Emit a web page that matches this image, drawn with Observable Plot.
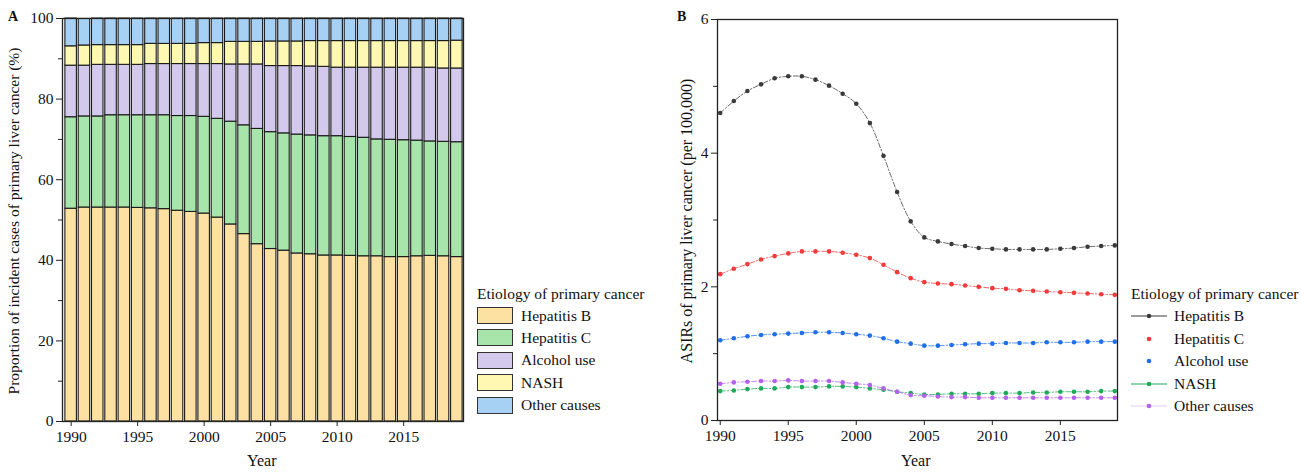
<!DOCTYPE html>
<html>
<head>
<meta charset="utf-8">
<script src="https://cdn.jsdelivr.net/npm/d3@7"></script>
<script src="https://cdn.jsdelivr.net/npm/@observablehq/plot@0.6"></script>
<style>
  html, body { margin: 0; padding: 0; background: #fff; }
  #root { position: relative; width: 1301px; height: 472px; font-family: "Liberation Serif", "DejaVu Serif", serif; color: #111; }
  .abs { position: absolute; white-space: nowrap; }
  .ylab { position: absolute; transform: translate(-50%, -50%) rotate(-90deg); white-space: nowrap; }
  .panel { position: absolute; top: 0; }
  .panel svg text { font-size: 15.5px !important; font-family: "Liberation Serif", serif !important; fill: #111; }
  .leg-title { position: absolute; font-size: 15.5px; white-space: nowrap; }
  .leg-row { position: absolute; font-size: 15.5px; white-space: nowrap; display: flex; align-items: center; }
</style>
</head>
<body>
<div id="root">
  <div class="panel" id="panelA" style="left:0px"></div>
  <div class="panel" id="panelB" style="left:650px"></div>
  <div class="abs" style="left:8px; top:9px; font-weight:bold; font-size:14px;">A</div>
  <div class="abs" style="left:677px; top:9px; font-weight:bold; font-size:14px;">B</div>
  <div class="ylab" style="left:14px; top:221px; font-size:15.5px;">Proportion of incident cases of primary liver cancer (%)</div>
  <div class="ylab" style="left:687px; top:221px; font-size:16px;">ASIRs of primary liver cancer (per 100,000)</div>
  <div class="abs" style="left:247px; top:452px; font-size:16px;">Year</div>
  <div class="abs" style="left:901px; top:452px; font-size:16px;">Year</div>
  <div id="legA"></div>
  <div id="legB"></div>
</div>
<script>
// ---------- data ----------
const years = [1990,1991,1992,1993,1994,1995,1996,1997,1998,1999,2000,2001,2002,2003,2004,2005,2006,2007,2008,2009,2010,2011,2012,2013,2014,2015,2016,2017,2018,2019];
const causes = ["Hepatitis B", "Hepatitis C", "Alcohol use", "NASH", "Other causes"];

// Panel A: proportion of incident cases (%)
const propHepB  = [52.8,53.1,53.1,53.1,53.1,53.0,52.9,52.7,52.3,52.0,51.6,50.6,48.9,46.5,44.0,42.8,42.4,41.7,41.5,41.2,41.2,41.1,41.0,41.0,40.8,40.8,41.0,41.1,41.0,40.8];
const propHepC  = [22.7,22.6,22.6,22.9,22.9,23.0,23.1,23.3,23.5,23.8,24.0,24.5,25.5,27.0,28.6,29.0,29.1,29.5,29.5,29.6,29.6,29.5,29.4,29.0,29.1,29.0,28.7,28.4,28.4,28.5];
const propAlc   = [12.8,12.6,12.8,12.5,12.5,12.5,12.7,12.7,12.9,12.9,13.1,13.6,14.2,15.1,16.0,16.4,16.7,17.0,17.1,17.2,17.0,17.2,17.4,17.8,17.9,18.0,18.1,18.3,18.2,18.3];
const propNash  = [4.8,5.0,4.9,4.9,4.9,4.9,5.0,5.0,5.0,5.0,5.2,5.2,5.6,5.6,5.6,6.1,6.1,6.1,6.3,6.4,6.6,6.6,6.6,6.6,6.6,6.6,6.6,6.6,6.8,6.9];
const propOther = [6.9,6.6,6.6,6.6,6.6,6.6,6.3,6.3,6.3,6.3,6.1,6.1,5.8,5.8,5.8,5.7,5.7,5.7,5.6,5.6,5.6,5.6,5.6,5.6,5.6,5.6,5.6,5.6,5.6,5.5];

// Panel B: ASIRs (per 100,000)
const asirHepB  = [4.60,4.78,4.93,5.03,5.12,5.15,5.15,5.10,5.01,4.89,4.74,4.45,3.96,3.42,2.98,2.74,2.68,2.64,2.61,2.58,2.57,2.56,2.56,2.56,2.56,2.57,2.58,2.60,2.61,2.62];
const asirHepC  = [2.19,2.27,2.34,2.41,2.46,2.50,2.53,2.53,2.53,2.51,2.48,2.43,2.33,2.22,2.13,2.07,2.05,2.04,2.02,2.00,1.98,1.97,1.95,1.94,1.93,1.92,1.91,1.90,1.89,1.88];
const asirAlc   = [1.20,1.23,1.26,1.28,1.29,1.30,1.31,1.32,1.32,1.31,1.29,1.27,1.23,1.18,1.15,1.12,1.12,1.13,1.14,1.15,1.15,1.16,1.16,1.16,1.17,1.17,1.17,1.18,1.18,1.18];
const asirNash  = [0.44,0.45,0.47,0.48,0.48,0.50,0.50,0.50,0.51,0.51,0.50,0.48,0.46,0.43,0.41,0.39,0.39,0.40,0.40,0.40,0.41,0.41,0.41,0.42,0.42,0.43,0.43,0.43,0.44,0.44];
const asirOther = [0.55,0.57,0.58,0.59,0.59,0.60,0.59,0.59,0.59,0.57,0.55,0.53,0.48,0.43,0.38,0.37,0.36,0.35,0.35,0.34,0.34,0.34,0.34,0.34,0.34,0.34,0.34,0.34,0.34,0.34];

const yTicksA = [0, 20, 40, 60, 80, 100];
const yMinorA = [10, 30, 50, 70, 90];
const yTicksB = [0, 2, 4, 6];
const yMinorB = [1, 3, 5];
const xTicks = [1990, 1995, 2000, 2005, 2010, 2015];

// ---------- styles ----------
const fillsA = ["#fde1a3", "#a7e5ab", "#d3c9ec", "#fff8b2", "#a7d0f5"];
const colorsB = ["#3a3a3a", "#f23a3a", "#1f6fe8", "#1faa5a", "#b462ee"];

const propSeries = [propHepB, propHepC, propAlc, propNash, propOther];
const asirSeries = [asirHepB, asirHepC, asirAlc, asirNash, asirOther];

const rowsA = [];
causes.forEach((c, i) => years.forEach((y, j) => rowsA.push({year: y, cause: c, value: propSeries[i][j]})));
const rowsB = [];
causes.forEach((c, i) => years.forEach((y, j) => rowsB.push({year: y, cause: c, value: asirSeries[i][j]})));

const baseStyle = {fontFamily: "Liberation Serif, serif", fontSize: "15.5px", color: "#111", background: "transparent", overflow: "visible"};
const FS = 15.5;

// ---------- panel A ----------
const plotA = Plot.plot({
  width: 470, height: 472,
  marginLeft: 62, marginRight: 7, marginTop: 18, marginBottom: 51,
  style: baseStyle,
  x: {domain: [1989.35, 2019.5], label: null},
  y: {domain: [0, 100], label: null},
  color: {domain: causes, range: fillsA},
  marks: [
    Plot.rectY(rowsA, {x1: d => d.year - 0.5, x2: d => d.year + 0.5, y: "value", fill: "cause", order: causes,
      stroke: "#1a1a1a", strokeWidth: 1.1, insetLeft: 0.9, insetRight: 0.9}),
    Plot.frame({stroke: "#222", strokeWidth: 1.3}),
    Plot.axisY({ticks: yTicksA, tickSize: 6, tickPadding: 3, fontSize: FS, tickFormat: "d", label: null, stroke: "#222"}),
    Plot.axisY({ticks: yMinorA, tickSize: 4, text: null, label: null, stroke: "#222"}),
    Plot.axisX({ticks: xTicks, tickSize: 5, tickPadding: 4, fontSize: FS, tickFormat: d => String(d), label: null, stroke: "#222"})
  ]
});
document.getElementById("panelA").appendChild(plotA);

// ---------- panel B ----------
const plotB = Plot.plot({
  width: 475, height: 472,
  marginLeft: 67, marginRight: 8, marginTop: 19, marginBottom: 52,
  style: baseStyle,
  x: {domain: [1989.8, 2019.2], label: null},
  y: {domain: [0, 6], label: null},
  color: {domain: causes, range: colorsB},
  marks: [
    Plot.line(rowsB, {x: "year", y: "value", stroke: "cause", curve: "catmull-rom", strokeWidth: 0.9, strokeDasharray: "5,2,1.5,2", strokeOpacity: 0.85}),
    Plot.dot(rowsB, {x: "year", y: "value", fill: "cause", r: 2.3}),
    Plot.frame({stroke: "#222", strokeWidth: 1.3}),
    Plot.axisY({ticks: yTicksB, tickSize: 6, tickPadding: 3, fontSize: FS, tickFormat: "d", label: null, stroke: "#222"}),
    Plot.axisY({ticks: yMinorB, tickSize: 4, text: null, label: null, stroke: "#222"}),
    Plot.axisX({ticks: xTicks, tickSize: 5, tickPadding: 4, fontSize: FS, tickFormat: d => String(d), label: null, stroke: "#222"})
  ]
});
document.getElementById("panelB").appendChild(plotB);

// ---------- legends ----------
const legA = document.getElementById("legA");
legA.innerHTML = `<div class="leg-title" style="left:477px; top:285px;">Etiology of primary cancer</div>` +
  causes.map((c, i) => `<div class="leg-row" style="left:477px; top:${307 + i * 22.4}px; height:17px;">
     <span style="display:inline-block; width:34px; height:15px; background:${fillsA[i]}; border:1px solid #333; margin-right:8px;"></span>${c}</div>`).join("");

const legB = document.getElementById("legB");
const lineStyles = [
  {line: true, op: 1}, {line: false, op: 1}, {line: false, op: 1}, {line: true, op: 1}, {line: true, op: 0.35}
];
legB.innerHTML = `<div class="leg-title" style="left:1131px; top:285px;">Etiology of primary cancer</div>` +
  causes.map((c, i) => `<div class="leg-row" style="left:1131px; top:${307 + i * 22.5}px; height:18px;">
     <svg width="36" height="18" style="margin-right:7px">
       ${lineStyles[i].line ? `<line x1="0" x2="36" y1="9" y2="9" stroke="${colorsB[i]}" stroke-width="1.2" stroke-opacity="${lineStyles[i].op}"/>` : ""}
       <circle cx="18" cy="9" r="2.3" fill="${colorsB[i]}"/>
     </svg>${c}</div>`).join("");
</script>
</body>
</html>
